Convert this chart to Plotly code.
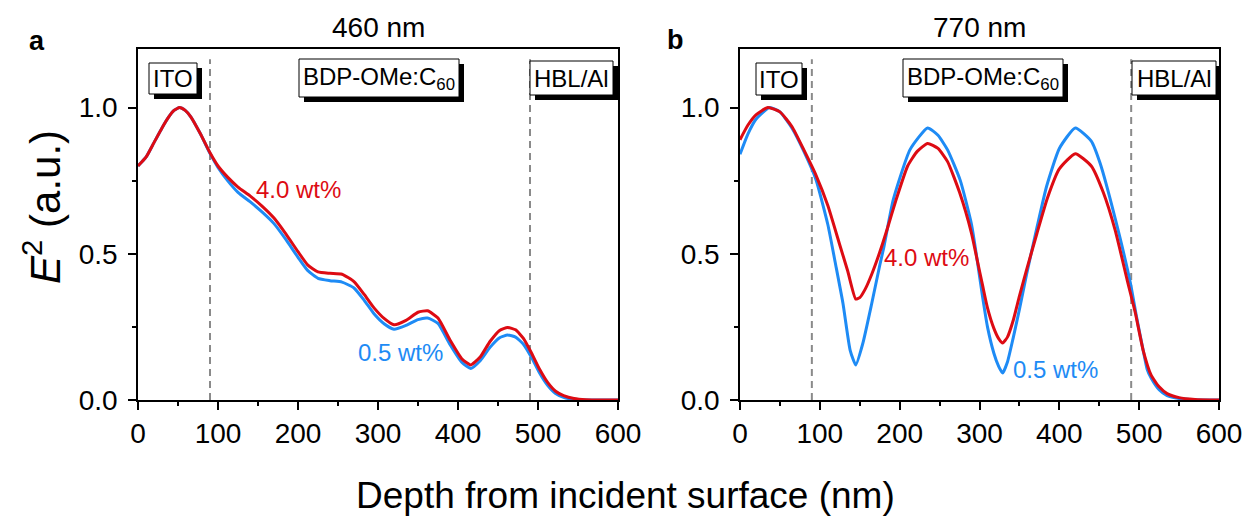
import plotly.graph_objects as go

# ---------------- data ----------------
panel_titles = ["460 nm", "770 nm"]
panel_letters = ["a", "b"]
series_names = ["0.5 wt%", "4.0 wt%"]
layer_names = ["ITO", "BDP-OMe:C<sub>60</sub>", "HBL/Al"]
layer_bounds = [90, 490]
x_ticks = [0, 100, 200, 300, 400, 500, 600]
y_ticks = [0.0, 0.5, 1.0]

# 460 nm panel
x460 = [0, 10, 20, 30, 38, 45, 52, 59, 66, 78, 90, 100, 112, 125, 140, 155, 170, 185, 200, 212,
        225, 240, 255, 270, 283, 295, 308, 320, 335, 350, 362, 375, 390, 405, 416, 428, 440, 452,
        462, 472, 482, 492, 502, 512, 522, 532, 545, 560, 580, 600]
red460 = [0.80, 0.83, 0.88, 0.93, 0.966, 0.99, 1.0, 0.99, 0.968, 0.91, 0.845, 0.80, 0.762, 0.728,
          0.698, 0.663, 0.622, 0.567, 0.507, 0.462, 0.438, 0.433, 0.43, 0.405, 0.36, 0.315, 0.278,
          0.257, 0.272, 0.300, 0.305, 0.28, 0.205, 0.14, 0.12, 0.148, 0.20, 0.238, 0.248, 0.24,
          0.21, 0.16, 0.105, 0.06, 0.03, 0.015, 0.005, 0.001, 0, 0]
blue460 = [0.80, 0.83, 0.88, 0.93, 0.966, 0.99, 1.0, 0.99, 0.968, 0.91, 0.843, 0.795, 0.75, 0.71,
           0.678, 0.643, 0.603, 0.548, 0.488, 0.443, 0.416, 0.408, 0.403, 0.383, 0.34, 0.295,
           0.26, 0.242, 0.255, 0.275, 0.28, 0.262, 0.19, 0.128, 0.108, 0.135, 0.18, 0.213, 0.222,
           0.215, 0.19, 0.145, 0.092, 0.05, 0.022, 0.009, 0.002, 0, 0, 0]

# 770 nm panel
x770_red = [0, 10, 20, 35, 50, 65, 80, 95, 110, 125, 135, 145, 150, 157, 165, 175, 185, 195, 210,
            222, 235, 248, 260, 275, 290, 297, 304, 310, 318, 324, 329, 335, 342, 350, 360, 372,
            385, 400, 420, 440, 455, 470, 485, 495, 505, 515, 525, 535, 550, 570, 600]
red770 = [0.89, 0.94, 0.975, 1.0, 0.985, 0.935, 0.855, 0.77, 0.665, 0.53, 0.44, 0.345, 0.35,
          0.38, 0.43, 0.505, 0.59, 0.68, 0.80, 0.85, 0.877, 0.86, 0.815, 0.71, 0.57, 0.48, 0.39,
          0.315, 0.245, 0.21, 0.195, 0.215, 0.27, 0.355, 0.455, 0.57, 0.69, 0.79, 0.842, 0.80,
          0.71, 0.58, 0.41, 0.30, 0.17, 0.085, 0.045, 0.022, 0.008, 0.002, 0]
x770_blue = [0, 10, 20, 37, 50, 65, 80, 95, 110, 120, 129, 138, 145, 154, 165, 175, 180, 192, 213,
             235, 248, 260, 276, 290, 297, 304, 310, 318, 324, 329, 335, 342, 350, 359, 372, 384,
             400, 420, 440, 451, 470, 489, 497, 505, 510, 515, 525, 535, 550, 570, 600]
blue770 = [0.84, 0.91, 0.96, 1.0, 0.985, 0.93, 0.85, 0.755, 0.60, 0.46, 0.33, 0.17, 0.12, 0.195,
           0.33, 0.46, 0.52, 0.685, 0.856, 0.93, 0.905, 0.855, 0.75, 0.60, 0.48, 0.35, 0.25, 0.16,
           0.115, 0.092, 0.13, 0.21, 0.31, 0.43, 0.59, 0.73, 0.86, 0.93, 0.885, 0.81, 0.62, 0.40,
           0.28, 0.17, 0.105, 0.075, 0.035, 0.015, 0.005, 0.001, 0]

# ---------------- styling ----------------
W, H = 1250, 527
RED = "#DD0B13"
BLUE = "#1E8BF5"
FONT = "Arial, Liberation Sans, sans-serif"
TICK_SIZE = 28

fig = go.Figure()

panels = [
    dict(xa="x", ya="y", xs=(x460, x460), ys=(blue460, red460), dom=(138, 618)),
    dict(xa="x2", ya="y2", xs=(x770_blue, x770_red), ys=(blue770, red770), dom=(740, 1219)),
]

for p in panels:
    for xs, ys, col, name in zip(p["xs"], p["ys"], (BLUE, RED), series_names):
        fig.add_trace(go.Scatter(x=xs, y=ys, mode="lines", name=name, xaxis=p["xa"], yaxis=p["ya"],
                                 line=dict(color=col, width=3, shape="spline", smoothing=0.5),
                                 showlegend=False, hoverinfo="skip"))

ytop, ybot = 49, 400
ydom = [1 - ybot / H, 1 - ytop / H]


def xaxis_cfg(dom, anchor):
    return dict(domain=[dom[0] / W, dom[1] / W], range=[0, 600], anchor=anchor, automargin=False,
                tickmode="array", tickvals=x_ticks, ticktext=[str(v) for v in x_ticks],
                ticks="outside", ticklen=8, tickwidth=1.5, tickcolor="black",
                showline=True, linecolor="black", linewidth=1.5, mirror=True,
                showgrid=False, zeroline=False,
                minor=dict(dtick=50, tick0=0, ticks="outside", ticklen=4, tickwidth=1.5,
                           tickcolor="black", showgrid=False),
                tickfont=dict(family=FONT, size=TICK_SIZE, color="black"))


def yaxis_cfg(anchor):
    return dict(domain=ydom, range=[0, 1.2], anchor=anchor, automargin=False,
                tickmode="array", tickvals=y_ticks, ticktext=["%.1f" % v for v in y_ticks],
                ticks="outside", ticklen=8, tickwidth=1.5, tickcolor="black",
                showline=True, linecolor="black", linewidth=1.5, mirror=True,
                showgrid=False, zeroline=False, ticklabelstandoff=5,
                minor=dict(dtick=0.25, tick0=0, ticks="outside", ticklen=4, tickwidth=1.5,
                           tickcolor="black", showgrid=False),
                tickfont=dict(family=FONT, size=TICK_SIZE, color="black"))


fig.update_layout(
    width=W, height=H, margin=dict(l=0, r=0, t=0, b=0, autoexpand=False),
    paper_bgcolor="white", plot_bgcolor="white", showlegend=False,
    xaxis=xaxis_cfg(panels[0]["dom"], "y"), yaxis=yaxis_cfg("x"),
    xaxis2=xaxis_cfg(panels[1]["dom"], "y2"), yaxis2=yaxis_cfg("x2"),
)

shapes = []
annotations = []

YS = (ybot - ytop) / 1.2  # px per y unit


def xs_of(dom):
    return (dom[1] - dom[0]) / 600.0


# layer boundary dashed lines
for p in panels:
    for b in layer_bounds:
        shapes.append(dict(type="line", xref=p["xa"], yref=p["ya"], x0=b, x1=b, y0=0, y1=1.165,
                           line=dict(color="#8a8a8a", width=2, dash="7px,5px"), layer="below"))

# layer label boxes: (center px x relative to axis start, center px y, width, height)
box_geo = [
    [(35, 78.5, 48, 31), (241, 78, 160, 38), (433.5, 78, 83, 34)],
    [(39, 79, 46, 32), (243, 78, 160, 38), (434, 78, 84, 34)],
]
for p, geos in zip(panels, box_geo):
    sx = xs_of(p["dom"])
    for (cx, cy, w, h), name in zip(geos, layer_names):
        xc = cx / sx
        yc = (ybot - cy) / YS
        hw = w / 2 / sx
        hh = h / 2 / YS
        dx = 5 / sx
        dy = 5 / YS
        shapes.append(dict(type="rect", xref=p["xa"], yref=p["ya"], x0=xc - hw + dx, x1=xc + hw + dx,
                           y0=yc - hh - dy, y1=yc + hh - dy, fillcolor="black",
                           line=dict(width=0), layer="above"))
        shapes.append(dict(type="rect", xref=p["xa"], yref=p["ya"], x0=xc - hw, x1=xc + hw,
                           y0=yc - hh, y1=yc + hh, fillcolor="white",
                           line=dict(color="black", width=1), layer="above"))
        annotations.append(dict(text=name, xref=p["xa"], yref=p["ya"], x=xc, y=yc,
                                showarrow=False, xanchor="center", yanchor="middle",
                                font=dict(family=FONT, size=24, color="black")))

# panel titles & letters
for p, t in zip(panels, panel_titles):
    cx = (p["dom"][0] + p["dom"][1]) / 2
    annotations.append(dict(text=t, xref="paper", yref="paper", x=cx / W, y=1 - 27.5 / H,
                            showarrow=False, xanchor="center", yanchor="middle",
                            font=dict(family=FONT, size=28, color="black")))
for l, (px, py) in zip(panel_letters, [(36.5, 41), (675, 40)]):
    annotations.append(dict(text="<b>%s</b>" % l, xref="paper", yref="paper", x=px / W, y=1 - py / H,
                            showarrow=False, xanchor="center", yanchor="middle",
                            font=dict(family=FONT, size=27, color="black")))

# series labels (data coordinates)
series_label_pos = [
    [("x", "y", 327.5, 0.161), ("x", "y", 200, 0.72)],
    [("x2", "y2", 395, 0.103), ("x2", "y2", 234, 0.486)],
]
for plist in series_label_pos:
    for (xa, ya, x, y), col, name in zip(plist, (BLUE, RED), series_names):
        annotations.append(dict(text=name, xref=xa, yref=ya, x=x, y=y, showarrow=False,
                                xanchor="center", yanchor="middle",
                                font=dict(family=FONT, size=24, color=col)))

# axis titles
annotations.append(dict(text="Depth from incident surface (nm)", xref="paper", yref="paper",
                        x=625 / W, y=1 - 495 / H, showarrow=False, xanchor="center",
                        yanchor="middle", font=dict(family=FONT, size=37, color="black")))
annotations.append(dict(text="<i>E</i><sup>2</sup> (a.u.)", xref="paper", yref="paper",
                        x=42 / W, y=1 - 207 / H, showarrow=False, xanchor="center",
                        yanchor="middle", textangle=-90,
                        font=dict(family=FONT, size=42, color="black")))

fig.update_layout(shapes=shapes, annotations=annotations)
fig.write_html("out.html")
